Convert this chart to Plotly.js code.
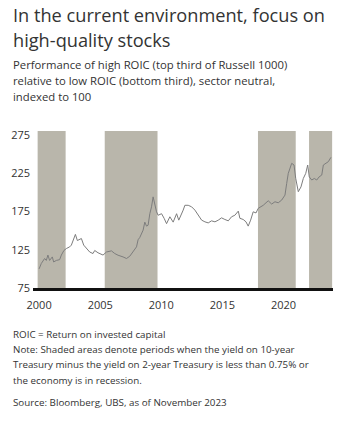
<!DOCTYPE html>
<html>
<head>
<meta charset="utf-8">
<script src="https://cdn.plot.ly/plotly-3.0.1.min.js"></script>
<style>
html,body{margin:0;padding:0;background:#fff;}
#chart{width:357px;height:427px;}
</style>
</head>
<body>
<div id="chart"></div>
<script>
// Relative performance, high ROIC vs low ROIC (indexed to 100), decimal years
var years = [2000.0,2000.18,2000.45,2000.59,2000.72,2000.86,2001.08,2001.19,2001.41,2001.68,2001.82,2002.03,2002.23,2002.5,2002.64,2002.77,2002.97,2003.13,2003.32,2003.46,2003.65,2003.87,2004.14,2004.41,2004.55,2004.82,2005.1,2005.23,2005.51,2005.78,
2005.92,2006.19,2006.46,2006.87,2007.15,2007.42,2007.69,2007.97,2008.1,2008.24,2008.51,2008.65,2008.79,2008.92,2009.06,2009.2,2009.33,2009.47,2009.61,2009.74,2010.02,2010.23,2010.43,2010.7,2010.97,2011.25,2011.43,2011.79,2011.93,
2012.2,2012.48,2012.75,2013.02,2013.3,2013.57,2013.84,2014.11,2014.39,2014.66,2014.93,2015.2,2015.48,2015.75,2016.02,2016.3,2016.43,2016.7,2016.93,2017.11,2017.31,2017.52,2017.75,2017.93,
2018.34,2018.75,2019.03,2019.3,2019.57,2019.85,2020.12,2020.26,2020.39,2020.67,2020.86,2021.0,2021.21,2021.43,2021.62,2021.82,2021.98,2022.11,2022.31,2022.52,2022.72,2022.91,2023.13,2023.26,2023.46,2023.67,2023.88];
var values = [100,107,113.5,111,118,111,115.6,109,111,112,118,124,126.5,128.7,131,137.4,145,137,138,139.6,131,126.5,122,120,124,121,118.7,118,122,123,
123.5,120,117.8,115.6,113.5,116.5,122,128.7,138,141,150.5,161,155.8,157,172,181,194,183,174.5,170,172,166,159,168,161,172,163.6,176.7,183,
183,181,176.7,170,163.6,161.4,160,162.7,161.4,163.6,166.6,164.5,162.7,168,170,175.4,166,164.5,161.4,155.8,163.6,174.5,173,179,
183,188.9,184.6,187.6,186.3,189.8,196.3,211.6,224.7,237.8,235.6,218,200.7,207,218,224.7,235.6,220,216,218,216,220,222.5,235.6,237.8,240,245.6];

// Shaded periods (flat/inverted curve or recession)
var bandStart = [1999.88, 2005.37, 2017.91, 2022.09];
var bandEnd   = [2002.17, 2009.69, 2021.0, 2023.98];

var xTicks = [2000, 2005, 2010, 2015, 2020];
var yTicks = [75, 125, 175, 225, 275];

var titleLines = ["In the current environment, focus on", "high-quality stocks"];
var subtitleLines = ["Performance of high ROIC (top third of Russell 1000)", "relative to low ROIC (bottom third), sector neutral,", "indexed to 100"];
var noteLines = ["ROIC = Return on invested capital", "Note: Shaded areas denote periods when the yield on 10-year", "Treasury minus the yield on 2-year Treasury is less than 0.75% or", "the economy is in recession."];
var sourceLine = "Source: Bloomberg, UBS, as of November 2023";

var FONT = "'Open Sans', 'Noto Sans', sans-serif";
var TXT = "#333333";

var plotTop = 131, plotBottom = 287.7, plotLeft = 33, plotRight = 333;
var plotH = plotBottom - plotTop, plotW = plotRight - plotLeft;
function py(pix){ return (plotBottom - pix) / plotH; }
function px(pix){ return (pix - plotLeft) / plotW; }

var shapes = bandStart.map(function(s, i){
  return {type:'rect', xref:'x', yref:'paper', x0:s, x1:bandEnd[i], y0:0, y1:1,
          fillcolor:'#b9b6ab', line:{width:0}, layer:'below'};
});

var annotations = [];
function addText(text, xPix, yPix, size){
  annotations.push({text:text, xref:'paper', yref:'paper', x:px(xPix), y:py(yPix),
    xanchor:'left', yanchor:'middle', showarrow:false, align:'left',
    font:{family:FONT, size:size, color:TXT}});
}
addText(titleLines[0], 11, 15, 18.2);
addText(titleLines[1], 11, 40, 18.2);
addText(subtitleLines[0], 11, 65, 11.3);
addText(subtitleLines[1], 11, 81, 11.3);
addText(subtitleLines[2], 11, 97, 11.3);
addText(noteLines[0], 11, 334, 9.8);
addText(noteLines[1], 11, 349, 9.8);
addText(noteLines[2], 11, 364.5, 9.8);
addText(noteLines[3], 11, 380, 9.8);
addText(sourceLine, 11, 402, 9.8);

var trace = {x: years, y: values, type:'scatter', mode:'lines',
  line:{color:'#7d7d7d', width:1}, hoverinfo:'skip'};

var layout = {
  width:357, height:427,
  margin:{l:plotLeft, r:357-plotRight, t:plotTop, b:427-plotBottom},
  paper_bgcolor:'#ffffff', plot_bgcolor:'rgba(0,0,0,0)',
  showlegend:false,
  xaxis:{range:[1999.5, 2024.05], tickvals:xTicks, ticktext:xTicks.map(String),
    showgrid:false, zeroline:false, showline:true, linecolor:'#111111', linewidth:2.5,
    ticks:'', ticklabelstandoff:5, tickfont:{family:FONT, size:11, color:TXT}, fixedrange:true},
  yaxis:{range:[75, 280], tickvals:yTicks, ticktext:yTicks.map(String),
    showgrid:false, zeroline:false, showline:false, ticks:'', ticklabelstandoff:2,
    tickfont:{family:FONT, size:11, color:TXT}, fixedrange:true},
  shapes:shapes,
  annotations:annotations
};

Plotly.newPlot('chart', [trace], layout, {displayModeBar:false, staticPlot:true});
</script>
</body>
</html>
